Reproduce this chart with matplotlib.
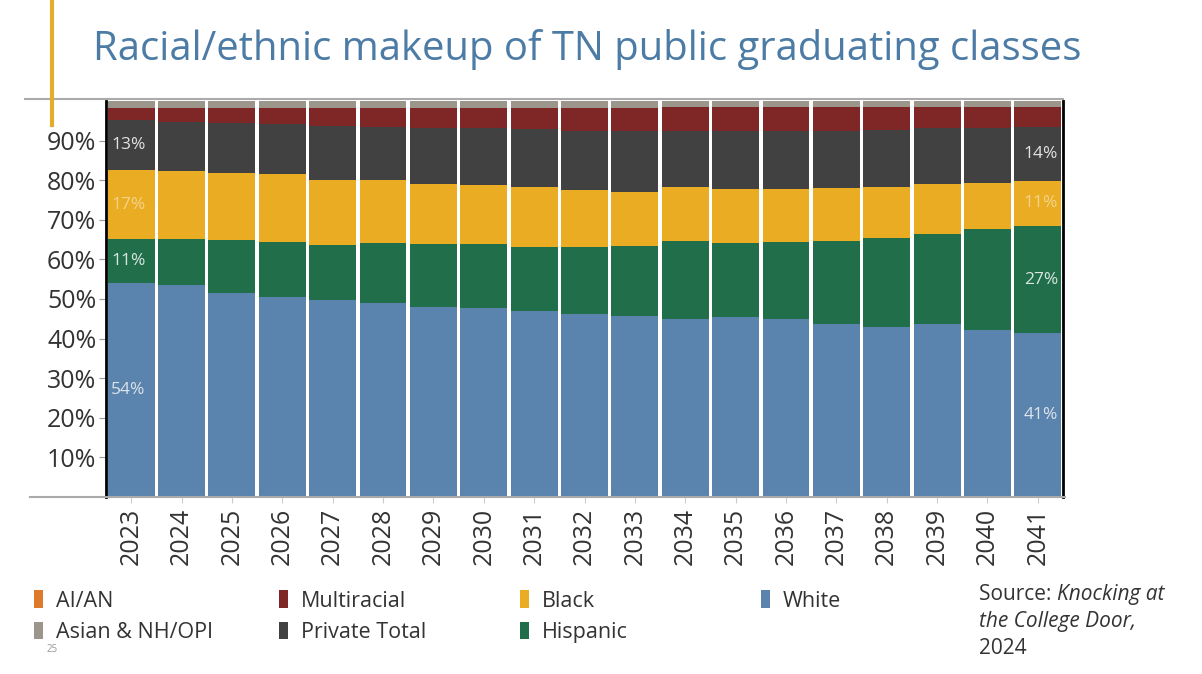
import numpy as np
import matplotlib.pyplot as plt
from matplotlib.patches import Patch
from matplotlib.lines import Line2D

plt.rcParams['font.family'] = ['Open Sans', 'DejaVu Sans']

years = [str(y) for y in range(2023, 2042)]
white = [54.0, 53.5, 51.6, 50.6, 49.7, 49.1, 48.1, 47.7, 47.0, 46.3,
         45.7, 45.0, 45.5, 45.0, 43.8, 43.0, 43.6, 42.1, 41.3]
hispanic = [11.2, 11.7, 13.3, 13.8, 13.9, 15.0, 15.8, 16.2, 16.2, 16.9,
            17.8, 19.7, 18.6, 19.5, 20.9, 22.5, 22.8, 25.7, 27.2]
black = [17.3, 17.0, 16.9, 17.2, 16.5, 16.0, 15.2, 15.0, 15.0, 14.4,
         13.4, 13.7, 13.8, 13.4, 13.4, 12.9, 12.6, 11.6, 11.3]
private = [12.7, 12.6, 12.6, 12.5, 13.7, 13.4, 14.2, 14.2, 14.7, 14.9,
           15.5, 13.9, 14.4, 14.5, 14.3, 14.2, 14.1, 13.7, 13.6]
multiracial = [3.1, 3.5, 3.9, 4.2, 4.5, 4.8, 5.0, 5.2, 5.4, 5.8,
               5.9, 6.1, 6.1, 6.0, 6.0, 5.8, 5.4, 5.4, 5.1]
asian = [1.7, 1.7, 1.7, 1.7, 1.7, 1.7, 1.7, 1.7, 1.7, 1.7,
         1.7, 1.6, 1.6, 1.6, 1.6, 1.6, 1.5, 1.5, 1.5]
aian = [0.0] * 19

series = [("White", white, "#5a84ad"),
          ("Hispanic", hispanic, "#216e4b"),
          ("Black", black, "#e9ac22"),
          ("Private Total", private, "#414141"),
          ("Multiracial", multiracial, "#7e2726"),
          ("Asian & NH/OPI", asian, "#9b958b"),
          ("AI/AN", aian, "#dd7a2c")]

W, H = 1202, 674
fig = plt.figure(figsize=(W / 100, H / 100), dpi=100)
ax = fig.add_axes([106 / W, 1 - 497 / H, 957 / W, 396 / H])

x = np.arange(len(years))
bottom = np.zeros(len(years))
bounds = {}
for name, vals, col in series:
    vals = np.array(vals)
    ax.bar(x, vals, bottom=bottom, width=0.93, color=col, edgecolor='none')
    bounds[name] = (bottom.copy(), vals)
    bottom = bottom + vals

# value labels on first and last bar
lab_col = {"White": "#dde3ea", "Hispanic": "#d9e6df", "Black": "#f3d38a",
           "Private Total": "#e2e2e2"}
for name in ["White", "Hispanic", "Black", "Private Total"]:
    b, v = bounds[name]
    ax.text(-0.4, b[0] + v[0] / 2, f"{v[0]:.0f}%", ha='left', va='center',
            fontsize=12.5, color=lab_col[name])
    ax.text(18.4, b[-1] + v[-1] / 2, f"{v[-1]:.0f}%", ha='right', va='center',
            fontsize=12.5, color=lab_col[name])

ax.set_xlim(-0.5, len(years) - 0.5)
ax.set_ylim(0, 100)
ax.set_yticks(range(10, 100, 10))
ax.set_yticklabels([f"{t}%" for t in range(10, 100, 10)], fontsize=18, color='#333333')
ax.set_xticks(x)
ax.set_xticklabels(years, rotation=90, fontsize=18, color='#333333')
ax.tick_params(axis='y', length=5, color='#999999', pad=2)
ax.tick_params(axis='x', length=4, color='#cccccc', pad=4)
for s in ['top', 'bottom']:
    ax.spines[s].set_visible(False)
ax.spines['left'].set_color('black')
ax.spines['left'].set_linewidth(2)
ax.spines['right'].set_color('black')
ax.spines['right'].set_linewidth(2)

# frame lines
fig.add_artist(Line2D([25 / W, 1063 / W], [1 - 99 / H, 1 - 99 / H], color='#aaaaaa', lw=1.5))
fig.add_artist(Line2D([30 / W, 1065 / W], [1 - 497 / H, 1 - 497 / H], color='#aaaaaa', lw=1.5))
fig.add_artist(Line2D([52 / W, 52 / W], [1.0, 1 - 125 / H], color='#e3ad2b', lw=3))

fig.text(93 / W, 1 - 60 / H, "Racial/ethnic makeup of TN public graduating classes",
         fontsize=28.8, color='#4c7ca5', ha='left', va='baseline')

# legend, one column at a time
cols = {n: c for n, _, c in series}
legend_cols = [["AI/AN", "Asian & NH/OPI"], ["Multiracial", "Private Total"],
               ["Black", "Hispanic"], ["White"]]
col_x = [28, 273, 514, 755]
for names, cx in zip(legend_cols, col_x):
    handles = [Patch(facecolor=cols[n], edgecolor='none', label=n) for n in names]
    leg = fig.legend(handles=handles, loc='upper left', bbox_to_anchor=(cx / W, 1 - 584 / H),
                     frameon=False, fontsize=15.5, handlelength=0.4, handleheight=0.9,
                     handletextpad=0.6, labelspacing=0.45, labelcolor='#333333',
                     borderaxespad=0, borderpad=0.3)

t1 = fig.text(979 / W, 1 - 600 / H, "Source: ", fontsize=15, color='#333333', va='baseline')
ax.annotate("Knocking at", xy=(1, 0), xycoords=t1, va='bottom', ha='left',
            fontsize=15, color='#333333', style='italic', annotation_clip=False)
fig.text(979 / W, 1 - 627 / H, "the College Door,", fontsize=15, color='#333333',
         style='italic', va='baseline')
fig.text(979 / W, 1 - 654 / H, "2024", fontsize=15, color='#333333', va='baseline')

fig.text(47 / W, 1 - 652 / H, "25", fontsize=7, color='#999999')

fig.savefig("out.png", dpi=100)
